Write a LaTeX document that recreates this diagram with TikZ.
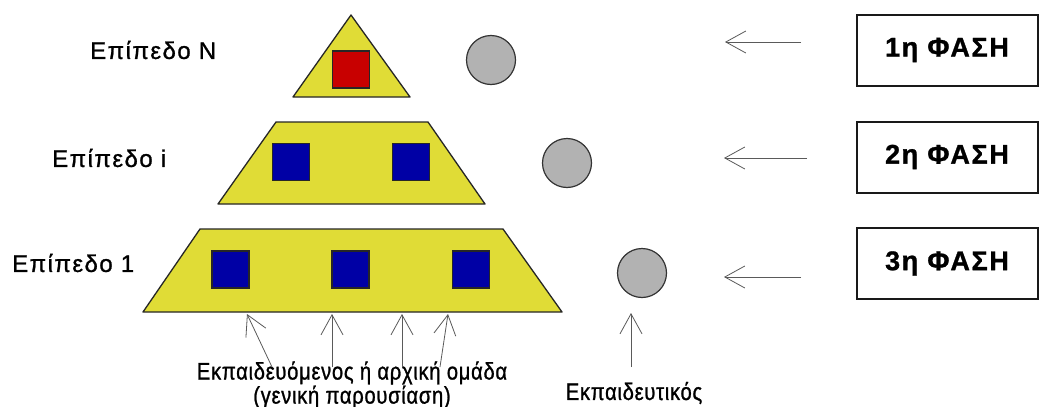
\documentclass[tikz,border=0pt]{standalone}
\usepackage{fontspec}
\setmainfont{Liberation Sans}[LetterSpace=6,FakeBold=1]
\newfontfamily\narrowfont{Liberation Sans}[FakeStretch=0.84,LetterSpace=3,FakeBold=1]
\usetikzlibrary{arrows.meta}
\definecolor{lvlyellow}{RGB}{224,220,54}
\definecolor{mbrblue}{RGB}{0,0,165}
\definecolor{headred}{RGB}{200,0,0}
\definecolor{tutgray}{RGB}{178,178,178}
\definecolor{arrgray}{RGB}{90,90,90}
\tikzset{x=1pt, y=-1pt,
level/.style ={draw=black!85, fill=lvlyellow, line width=1.3pt, line join=round},
member/.style ={rectangle, draw=black!85, fill=mbrblue, line width=1.3pt,
  minimum size=37pt, inner sep=0pt},
tutor/.style ={circle, draw=black!80, fill=tutgray, line width=1.2pt,
  minimum size=49pt, inner sep=0pt},
phase/.style ={rectangle, draw=black!90, line width=2pt, minimum width=181pt,
  minimum height=71pt, font=\fontsize{27}{30}\selectfont\bfseries},
lvlname/.style ={anchor=west, inner sep=0pt, font=\fontsize{24}{26}\selectfont},
caption/.style ={inner sep=0pt, align=center, font=\narrowfont\fontsize{24}{19}\selectfont},
point/.style ={draw=arrgray, line width=0.8pt, -{Straight Barb[length=20pt,width=22pt]}}}

\begin{document}
\begin{tikzpicture}
\useasboundingbox[fill=white] (0,0) rectangle (1042,407);
% pyramid levels
\draw[level] (351,15) -- (410,97) -- (293,97) -- cycle;
\draw[level] (276,122) -- (428,122) -- (485,204) -- (218,204) -- cycle;
\draw[level] (200,229) -- (503,229) -- (562,312) -- (143,312) -- cycle;
\node[lvlname] (LN) at (90,50) {Επίπεδο N};
\node[lvlname] (Li) at (52,158) {Επίπεδο i};
\node[lvlname] (L1) at (12,263) {Επίπεδο 1};
% members
\node[member, fill=headred] (R) at (351,69.5) {};
\node[member] (M1) at (291,162) {};
\node[member] (M2) at (411,162) {};
\node[member] (B1) at (230.5,269.5) {};
\node[member] (B2) at (350.5,269.5) {};
\node[member] (B3) at (471,269.5) {};
% tutors
\node[tutor] (T1) at (491,60) {};
\node[tutor] (T2) at (567,163) {};
\node[tutor] (T3) at (642,273) {};
% phases
\node[phase] (P1) at (947,50) {1η ΦΑΣΗ};
\node[phase] (P2) at (947,157) {2η ΦΑΣΗ};
\node[phase] (P3) at (947,263.5) {3η ΦΑΣΗ};
\coordinate (a1) at (801,42);  \coordinate (h1) at (725,42);
\coordinate (a2) at (807,158); \coordinate (h2) at (724,158);
\coordinate (a3) at (801,277); \coordinate (h3) at (724,277);
\draw[point] (a1) -- (h1);
\draw[point] (a2) -- (h2);
\draw[point] (a3) -- (h3);
% captions
\node[caption] (S) at (352,385) {Εκπαιδευόμενος ή αρχική ομάδα\\(γενική παρουσίαση)};
\node[caption] (E) at (634,393) {Εκπαιδευτικός};
\coordinate (s1) at (272,367); \coordinate (b1) at (247,314);
\coordinate (s2) at (332,367); \coordinate (b2) at (332,314);
\coordinate (s3) at (402,367); \coordinate (b3) at (402,314);
\coordinate (s4) at (440,367); \coordinate (b4) at (448,314);
\coordinate (e1) at (631,367); \coordinate (e2) at (631,313);
\foreach \i in {1,...,4}
  \draw[point] (s\i) -- (b\i);
\draw[point] (e1) -- (e2);
\end{tikzpicture}
\end{document}
